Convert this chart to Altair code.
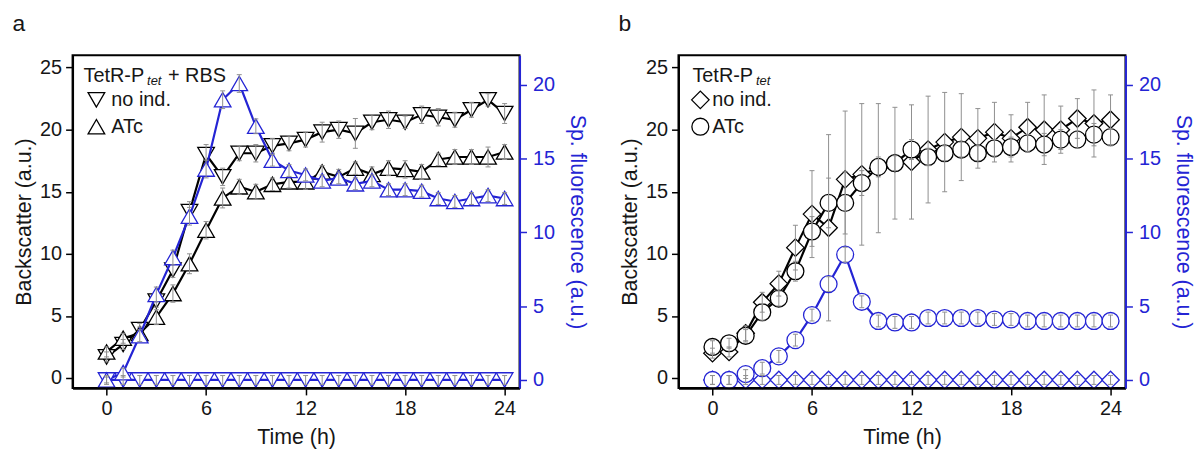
import altair as alt
import pandas as pd

FONT = "Liberation Sans"
BLUE = "#2424d4"
INK = "#161616"
GREY = "#8f8f8f"

hours = list(range(25))

# ---------------- panel a : TetR-Ptet + RBS ----------------
a_bs_noind = [1.7, 2.7, 3.9, 6.2, 8.7, 13.4, 18.0, 16.2, 18.1, 18.1, 18.7, 18.9, 19.2,
              19.8, 20.0, 19.7, 20.6, 20.8, 20.6, 21.2, 21.0, 20.8, 21.6, 22.4, 21.3]
a_bs_atc = [2.1, 3.2, 3.6, 4.9, 6.8, 9.2, 11.9, 14.5, 15.4, 15.0, 15.6, 15.8, 15.8,
            16.6, 16.2, 16.9, 16.4, 16.9, 16.8, 16.6, 17.6, 17.8, 17.8, 17.8, 18.2]
a_fl_noind = [0.0] * 25
a_fl_atc = [0.0, 0.5, 3.0, 5.8, 8.3, 11.1, 14.3, 19.0, 20.1, 17.2, 14.9, 14.2, 13.9,
            13.5, 13.7, 13.3, 13.5, 12.9, 12.9, 12.8, 12.3, 12.1, 12.3, 12.5, 12.3]
a_err_bs_noind = [0.4, 0.4, 0.5, 0.5, 0.6, 0.8, 0.8, 0.7, 0.6, 0.7, 0.6, 0.6, 0.6,
                  0.8, 0.7, 1.2, 0.6, 0.7, 0.5, 0.7, 0.7, 0.6, 0.6, 0.5, 0.8]
a_err_bs_atc = [0.4, 0.4, 0.5, 0.6, 0.7, 0.8, 0.7, 0.8, 0.6, 0.6, 0.5, 0.5, 0.6,
                0.5, 0.6, 0.5, 0.6, 0.6, 0.7, 0.6, 0.5, 0.6, 0.6, 0.8, 0.6]
a_err_fl_noind = [0.3] * 25
a_err_fl_atc = [0.2, 0.3, 0.4, 0.5, 0.5, 0.6, 0.6, 0.6, 0.6, 0.5, 0.4, 0.4, 0.4,
                0.4, 0.4, 0.4, 0.4, 0.4, 0.4, 0.4, 0.4, 0.4, 0.4, 0.4, 0.4]

# ---------------- panel b : TetR-Ptet ----------------
b_bs_noind = [2.0, 2.1, 3.6, 6.1, 7.6, 10.5, 13.2, 12.1, 16.0, 16.4, 16.9, 17.3, 17.4,
              18.4, 19.0, 19.4, 19.3, 19.8, 19.3, 20.2, 20.0, 20.0, 20.9, 20.5, 20.8]
b_bs_atc = [2.5, 2.8, 3.4, 5.3, 6.4, 8.6, 11.8, 14.1, 14.1, 15.7, 17.0, 17.3, 18.4,
            17.8, 18.1, 18.4, 18.1, 18.5, 18.6, 18.9, 18.8, 19.2, 19.2, 19.6, 19.4]
b_fl_noind = [0.0] * 25
b_fl_atc = [0.0, 0.0, 0.4, 0.8, 1.6, 2.7, 4.4, 6.5, 8.5, 5.3, 4.0, 3.9, 3.9,
            4.2, 4.2, 4.2, 4.2, 4.1, 4.1, 4.0, 4.0, 4.0, 4.0, 4.0, 4.0]
b_err_bs_noind = [0.4, 0.4, 0.6, 0.8, 1.0, 1.8, 3.5, 7.5, 5.5, 5.7, 5.2, 4.5, 4.6,
                  4.3, 4.0, 3.5, 2.4, 2.4, 1.9, 2.0, 2.8, 1.9, 1.6, 2.7, 2.0]
b_err_bs_atc = [0.5, 0.4, 0.5, 0.7, 0.6, 0.8, 1.2, 2.0, 2.5, 1.0, 0.8, 0.6, 0.8,
                0.7, 0.6, 0.6, 0.6, 0.7, 0.8, 0.7, 0.9, 0.8, 0.7, 0.9, 0.7]
b_err_fl_noind = [0.3] * 25
b_err_fl_atc = [0.3, 0.3, 0.3, 0.4, 0.4, 0.4, 0.4, 0.5, 0.5, 0.4, 0.4, 0.4, 0.4,
                0.4, 0.4, 0.4, 0.4, 0.4, 0.4, 0.4, 0.4, 0.4, 0.4, 0.4, 0.4]

x_ticks = [0, 6, 12, 18, 24]
left_ticks = [0, 5, 10, 15, 20, 25]
right_ticks = [0, 5, 10, 15, 20]
legend_labels = ["no ind.", "ATc"]

LABEL_SIZE = 20
TITLE_SIZE = 21.5
LEGEND_SIZE = 20


def make_df(bs_noind, bs_atc, fl_noind, fl_atc, e1, e2, e3, e4):
    df = pd.DataFrame({"t": hours, "bs_noind": bs_noind, "bs_atc": bs_atc,
                       "fl_noind": fl_noind, "fl_atc": fl_atc})
    for col, err in (("bs_noind", e1), ("bs_atc", e2), ("fl_noind", e3), ("fl_atc", e4)):
        df[col + "_lo"] = [v - e for v, e in zip(df[col], err)]
        df[col + "_hi"] = [v + e for v, e in zip(df[col], err)]
    return df


X = alt.X("t:Q", scale=alt.Scale(domain=[-2.05, 24.9], nice=False, zero=False),
          axis=alt.Axis(values=x_ticks, title="Time (h)", grid=False, domainColor="black",
                        domainWidth=2.5, tickColor="black", tickWidth=1.5, tickSize=7,
                        labelPadding=4, labelFontSize=LABEL_SIZE, titleFontSize=TITLE_SIZE,
                        labelFont=FONT, titleFont=FONT, labelColor=INK, titleColor=INK,
                        titleFontWeight="normal", titlePadding=8, zindex=2))

YL_SCALE = alt.Scale(domain=[-0.8, 26], nice=False, zero=False)
YR_SCALE = alt.Scale(domain=[-0.54, 22.02], nice=False, zero=False)
YL_AXIS = alt.Axis(values=left_ticks, title="Backscatter (a.u.)", orient="left", grid=False,
                   domainColor="black", domainWidth=2, tickColor="black", tickWidth=1.5,
                   tickSize=7, labelPadding=4, labelFontSize=LABEL_SIZE,
                   titleFontSize=TITLE_SIZE, labelFont=FONT, titleFont=FONT,
                   labelColor=INK, titleColor=INK, titleFontWeight="normal",
                   titlePadding=4, zindex=2)
YR_AXIS = alt.Axis(values=right_ticks, title="Sp. fluorescence (a.u.)", orient="right",
                   grid=False, domainColor=BLUE, domainWidth=2, tickColor=BLUE, tickWidth=1.5,
                   tickSize=7, labelPadding=6, labelFontSize=LABEL_SIZE,
                   titleFontSize=TITLE_SIZE, labelFont=FONT, titleFont=FONT,
                   labelColor=BLUE, titleColor=BLUE, titleFontWeight="normal",
                   titlePadding=11, zindex=2)


def series(base, col, shape, size, color, yscale, yaxis):
    y = alt.Y(col + ":Q", scale=yscale, axis=yaxis)
    line = base.mark_line(color=color, strokeWidth=2.2).encode(x=X, y=y)
    pts = base.mark_point(shape=shape, size=size, filled=True, fill="white", stroke=color,
                          strokeWidth=1.3, opacity=1).encode(x=X, y=y)
    rule = base.mark_rule(color=GREY, strokeWidth=1).encode(
        x=X, y=alt.Y(col + "_lo:Q", scale=yscale, axis=yaxis), y2=col + "_hi:Q")
    cap_hi = base.mark_point(shape="stroke", size=25, stroke=GREY, strokeWidth=1,
                             opacity=1).encode(x=X, y=alt.Y(col + "_hi:Q", scale=yscale, axis=yaxis))
    cap_lo = base.mark_point(shape="stroke", size=25, stroke=GREY, strokeWidth=1,
                             opacity=1).encode(x=X, y=alt.Y(col + "_lo:Q", scale=yscale, axis=yaxis))
    return line, pts, [rule, cap_hi, cap_lo]


one = pd.DataFrame({"k": [0]})


def txt(text, x, y, size, italic=False, color=INK, align="left", baseline="alphabetic"):
    return alt.Chart(one).mark_text(text=text, align=align, baseline=baseline, fontSize=size,
                                    font=FONT, fontStyle="italic" if italic else "normal",
                                    color=color).encode(x=alt.value(x), y=alt.value(y))


def sym(shape, x, y, size):
    return alt.Chart(one).mark_point(shape=shape, size=size, filled=True, fill="white",
                                     stroke="black", strokeWidth=1.3, opacity=1).encode(
        x=alt.value(x), y=alt.value(y))


def panel(df, shape_noind, shape_atc, size_noind, size_atc, tail, letter, lx, sx, tx):
    base = alt.Chart(df)
    l1, p1, e1 = series(base, "bs_noind", shape_noind, size_noind, "black", YL_SCALE, YL_AXIS)
    l2, p2, e2 = series(base, "bs_atc", shape_atc, size_atc, "black", YL_SCALE, YL_AXIS)
    l3, p3, e3 = series(base, "fl_noind", shape_noind, size_noind, BLUE, YR_SCALE, YR_AXIS)
    l4, p4, e4 = series(base, "fl_atc", shape_atc, size_atc, BLUE, YR_SCALE, YR_AXIS)
    legend = [
        txt("TetR-P", lx, 27, LEGEND_SIZE),
        txt("tet", lx + 64, 30, 13, italic=True),
        sym(shape_noind, sx, 45, size_noind),
        sym(shape_atc, sx, 72, size_atc),
        txt(legend_labels[0], tx, 45, LEGEND_SIZE, baseline="middle"),
        txt(legend_labels[1], tx, 72, LEGEND_SIZE, baseline="middle"),
        txt(letter, -54, -31, 23, align="center", baseline="middle"),
    ]
    if tail:
        legend.append(txt(tail, lx + 85, 27, LEGEND_SIZE))
    left = alt.layer(l1, l2, p1, p2, *e1, *e2, *legend)
    right = alt.layer(l3, l4, p3, p4, *e3, *e4)
    return alt.layer(left, right).resolve_scale(y="independent").properties(width=450, height=335)


df_a = make_df(a_bs_noind, a_bs_atc, a_fl_noind, a_fl_atc,
               a_err_bs_noind, a_err_bs_atc, a_err_fl_noind, a_err_fl_atc)
df_b = make_df(b_bs_noind, b_bs_atc, b_fl_noind, b_fl_atc,
               b_err_bs_noind, b_err_bs_atc, b_err_fl_noind, b_err_fl_atc)

panel_a = panel(df_a, "triangle-down", "triangle-up", 280, 280, "+ RBS", "a", 11, 24, 39)
panel_b = panel(df_b, "diamond", "circle", 310, 290, None, "b", 14, 22, 34)

chart = alt.hconcat(panel_a, panel_b, spacing=28).properties(
    padding={"left": 3, "top": 3, "right": 0, "bottom": 0}, background="white"
).configure_view(stroke="black", strokeWidth=2)

chart.save("out.html", embed_options={"renderer": "svg", "actions": False})
